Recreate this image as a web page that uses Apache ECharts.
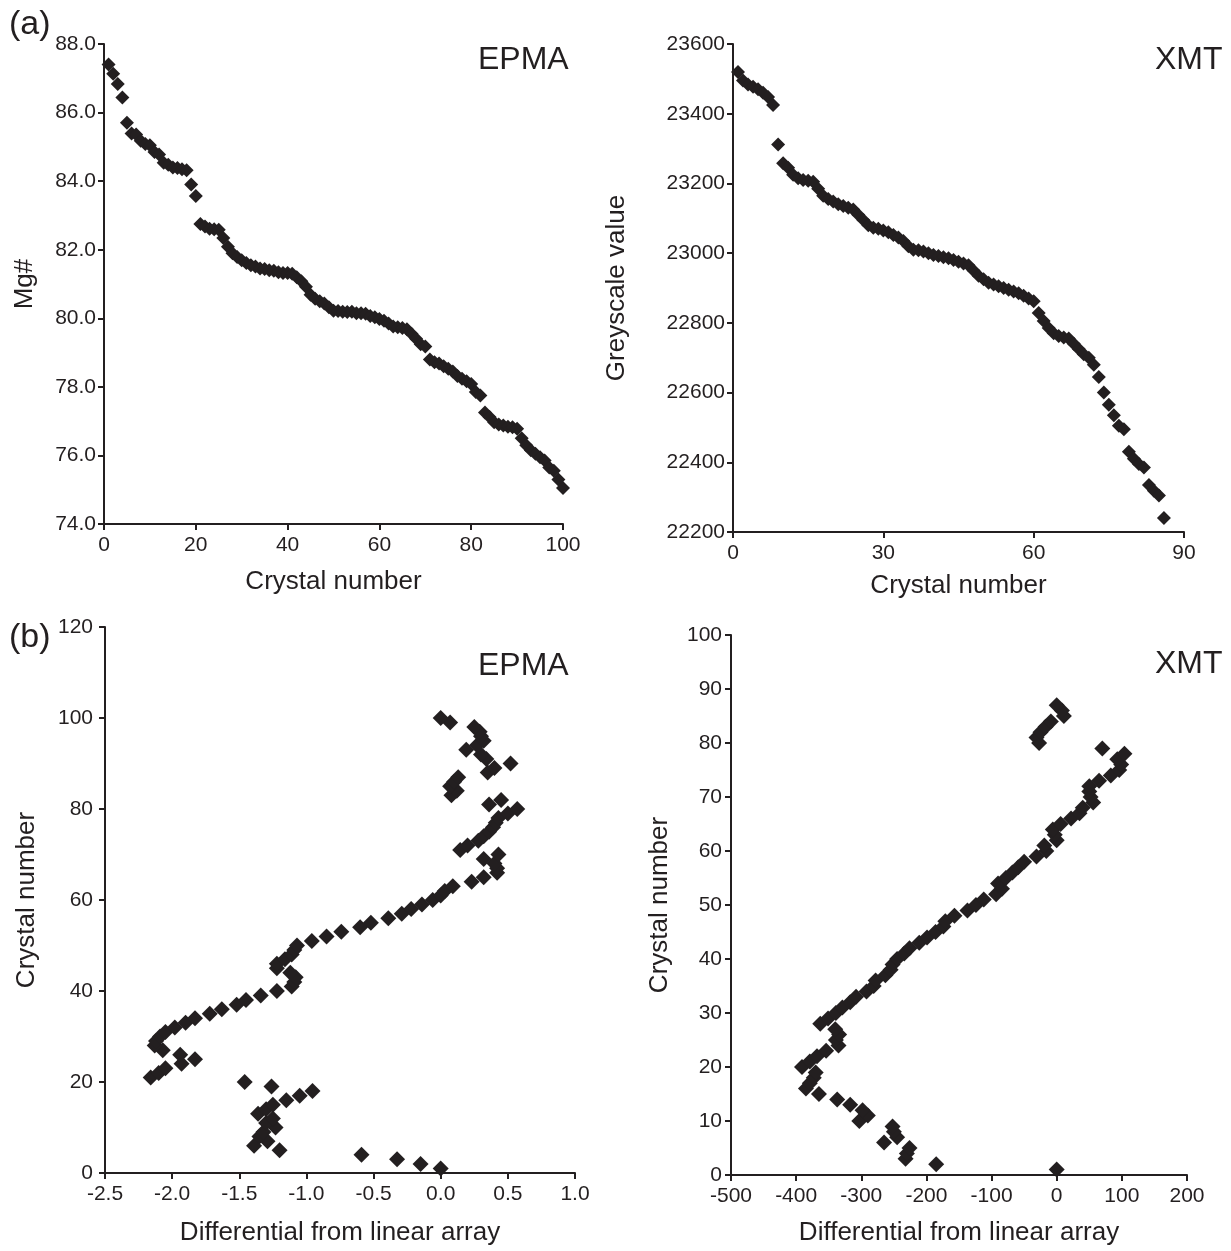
<!DOCTYPE html>
<html>
<head>
<meta charset="utf-8">
<script src="https://cdn.jsdelivr.net/npm/echarts@6/dist/echarts.min.js"></script>
<style>
html,body{margin:0;padding:0;background:#fff;}
#chart{width:1231px;height:1251px;}
</style>
</head>
<body>
<div id="chart"></div>
<script>
// ---------- DATA ----------
const epmaCrystal = [1,2,3,4,5,6,7,8,9,10,11,12,13,14,15,16,17,18,19,20,21,22,23,24,25,26,27,28,29,30,31,32,33,34,35,36,37,38,39,40,41,42,43,44,45,46,47,48,49,50,51,52,53,54,55,56,57,58,59,60,61,62,63,64,65,66,67,68,69,70,71,72,73,74,75,76,77,78,79,80,81,82,83,84,85,86,87,88,89,90,91,92,93,94,95,96,97,98,99,100];
const epmaMg = [87.40,87.13,86.83,86.44,85.70,85.39,85.36,85.18,85.08,85.05,
 84.85,84.78,84.54,84.48,84.40,84.38,84.35,84.32,83.90,83.57,
 82.75,82.68,82.61,82.60,82.58,82.34,82.09,81.90,81.79,81.69,
 81.61,81.55,81.51,81.45,81.44,81.40,81.39,81.34,81.32,81.32,
 81.30,81.20,81.08,80.92,80.69,80.57,80.50,80.43,80.32,80.22,
 80.21,80.19,80.18,80.19,80.15,80.15,80.13,80.07,80.03,79.98,
 79.93,79.85,79.76,79.74,79.72,79.68,79.55,79.40,79.24,79.18,
 78.80,78.72,78.68,78.60,78.53,78.45,78.32,78.24,78.16,78.08,
 77.85,77.75,77.25,77.12,76.97,76.90,76.87,76.84,76.82,76.78,
 76.50,76.30,76.15,76.05,75.95,75.85,75.65,75.55,75.30,75.05];
const epmaDiff = [0.00,-0.15,-0.325,-0.59,-1.20,-1.39,-1.29,-1.35,-1.32,-1.23,
 -1.30,-1.25,-1.36,-1.30,-1.25,-1.15,-1.05,-0.955,-1.26,-1.46,
 -2.16,-2.10,-2.05,-1.93,-1.83,-1.94,-2.07,-2.13,-2.12,-2.09,
 -2.05,-1.98,-1.90,-1.83,-1.72,-1.63,-1.52,-1.45,-1.34,-1.22,
 -1.11,-1.09,-1.08,-1.12,-1.22,-1.22,-1.16,-1.11,-1.09,-1.07,
 -0.96,-0.85,-0.74,-0.60,-0.52,-0.39,-0.29,-0.22,-0.14,-0.06,
 0.00,0.03,0.09,0.23,0.32,0.42,0.42,0.40,0.32,0.43,
 0.145,0.20,0.28,0.32,0.36,0.39,0.41,0.43,0.50,0.57,
 0.36,0.45,0.08,0.12,0.07,0.10,0.13,0.35,0.40,0.52,
 0.34,0.30,0.19,0.27,0.32,0.30,0.29,0.25,0.07,0.00];

const xmtGreyCrystal = [1,2,3,4,5,6,7,8,9,10,11,12,13,14,15,16,17,18,19,20,21,22,23,24,25,26,27,28,29,30,31,32,33,34,35,36,37,38,39,40,41,42,43,44,45,46,47,48,49,50,51,52,53,54,55,56,57,58,59,60,61,62,63,64,65,66,67,68,69,70,71,72,73,74,75,76,77,78,79,80,81,82,83,84,85,86];
const xmtGrey = [23520,23495,23484,23477,23470,23460,23448,23425,23312,23258,
 23245,23225,23215,23210,23208,23205,23185,23165,23155,23148,
 23140,23135,23130,23125,23110,23095,23080,23073,23070,23065,
 23060,23052,23045,23035,23020,23010,23008,23005,23000,22995,
 22992,22988,22985,22980,22975,22970,22965,22950,22935,22925,
 22915,22910,22905,22900,22895,22890,22885,22878,22870,22862,
 22828,22805,22785,22770,22762,22758,22755,22740,22725,22710,
 22700,22680,22645,22600,22565,22535,22505,22495,22430,22410,
 22395,22385,22335,22318,22305,22240];

const xmtDiffCrystal = [1,2,3,4,5,6,7,8,9,10,11,12,13,14,15,16,17,18,19,20,21,22,23,24,25,26,27,28,29,30,31,32,33,34,35,36,37,38,39,40,41,42,43,44,45,46,47,48,49,50,51,52,53,54,55,56,57,58,59,60,61,62,63,64,65,66,67,68,69,70,71,72,73,74,75,76,77,78,79,80,81,82,83,84,85,86,87];
const xmtDiff = [0,-185,-232,-230,-226,-265,-245,-250,-252,-303,
 -290,-298,-317,-337,-365,-385,-379,-373,-370,-391,
 -379,-368,-354,-335,-339,-334,-340,-363,-351,-339,
 -329,-317,-308,-292,-281,-278,-263,-255,-252,-245,
 -234,-226,-211,-199,-186,-174,-171,-157,-137,-124,
 -112,-93,-84,-90,-78,-68,-59,-50,-31,-16,
 -19,0,-3,-6,6,22,35,40,56,52,
 50,50,65,83,96,99,93,104,70,-27,
 -31,-25,-17,-9,11,8,0];

// ---------- OPTION ----------
const INK = '#231f20';
const FONT = '"Liberation Sans", Arial, Helvetica, sans-serif';

function lbl(margin, formatter) {
  const o = {show: true, color: INK, fontSize: 21, fontFamily: FONT, margin: margin};
  if (formatter) o.formatter = formatter;
  return o;
}

function axisBase(extra) {
  return Object.assign({
    type: 'value',
    axisLine: {show: true, onZero: false, lineStyle: {color: INK, width: 2}},
    axisTick: {show: true, inside: false, length: 6, lineStyle: {color: INK, width: 2}},
    splitLine: {show: false},
    minorTick: {show: false},
    axisLabel: lbl(10),
    nameLocation: 'middle',
    nameTextStyle: {color: INK, fontSize: 26, fontFamily: FONT},
    nameMoveOverlap: false
  }, extra);
}

const plain = v => String(v);
const oneDec = v => v.toFixed(1);

const grids = [
  {left: 104, top: 44, width: 459, height: 480},
  {left: 733, top: 44, width: 451, height: 488},
  {left: 105, top: 627, width: 470, height: 546},
  {left: 731, top: 635, width: 456, height: 540}
].map(g => Object.assign({containLabel: false, outerBoundsMode: 'none', show: false}, g));

const xAxes = [
  axisBase({gridIndex: 0, min: 0, max: 100, interval: 20, name: 'Crystal number', nameGap: 45, axisLabel: lbl(11, plain)}),
  axisBase({gridIndex: 1, min: 0, max: 90, interval: 30, name: 'Crystal number', nameGap: 41, axisLabel: lbl(11, plain)}),
  axisBase({gridIndex: 2, min: -2.5, max: 1.0, interval: 0.5, name: 'Differential from linear array', nameGap: 47, axisLabel: lbl(11, oneDec)}),
  axisBase({gridIndex: 3, min: -500, max: 200, interval: 100, name: 'Differential from linear array', nameGap: 45, axisLabel: lbl(11, plain)})
];
const yAxes = [
  axisBase({gridIndex: 0, min: 74, max: 88, interval: 2, name: 'Mg#', nameGap: 66, axisLabel: lbl(8, oneDec)}),
  axisBase({gridIndex: 1, min: 22200, max: 23600, interval: 200, name: 'Greyscale value', nameGap: 103, axisLabel: lbl(8, plain)}),
  axisBase({gridIndex: 2, min: 0, max: 120, interval: 20, name: 'Crystal number', nameGap: 65, axisLabel: lbl(12, plain)}),
  axisBase({gridIndex: 3, min: 0, max: 100, interval: 10, name: 'Crystal number', nameGap: 58, axisLabel: lbl(9, plain)})
];

function pairs(xs, ys) { return xs.map((x, i) => [x, ys[i]]); }

const series = [
  {type: 'scatter', xAxisIndex: 0, yAxisIndex: 0, symbol: 'diamond', symbolSize: 14,
   itemStyle: {color: INK, opacity: 1}, data: pairs(epmaCrystal, epmaMg), clip: false},
  {type: 'scatter', xAxisIndex: 1, yAxisIndex: 1, symbol: 'diamond', symbolSize: 14,
   itemStyle: {color: INK, opacity: 1}, data: pairs(xmtGreyCrystal, xmtGrey), clip: false},
  {type: 'scatter', xAxisIndex: 2, yAxisIndex: 2, symbol: 'diamond', symbolSize: 16,
   itemStyle: {color: INK, opacity: 1}, data: pairs(epmaDiff, epmaCrystal), clip: false},
  {type: 'scatter', xAxisIndex: 3, yAxisIndex: 3, symbol: 'diamond', symbolSize: 16,
   itemStyle: {color: INK, opacity: 1}, data: pairs(xmtDiff, xmtDiffCrystal), clip: false}
].map(s => Object.assign({silent: true, animation: false, emphasis: {disabled: true}}, s));

function label(text, x, y, size) {
  return {type: 'text', x: x, y: y, silent: true,
    style: {text: text, fill: INK, fontSize: size, fontFamily: FONT, align: 'left', verticalAlign: 'middle'}};
}

const option = {
  animation: false,
  backgroundColor: '#ffffff',
  grid: grids,
  xAxis: xAxes,
  yAxis: yAxes,
  series: series,
  graphic: [
    label('(a)', 9, 25, 34),
    label('(b)', 9, 638, 34),
    label('EPMA', 478, 60, 32),
    label('XMT', 1155, 60, 32),
    label('EPMA', 478, 666, 32),
    label('XMT', 1155, 664, 32)
  ]
};

const chart = echarts.init(document.getElementById('chart'), null, {renderer: 'canvas'});
chart.setOption(option);
</script>
</body>
</html>
